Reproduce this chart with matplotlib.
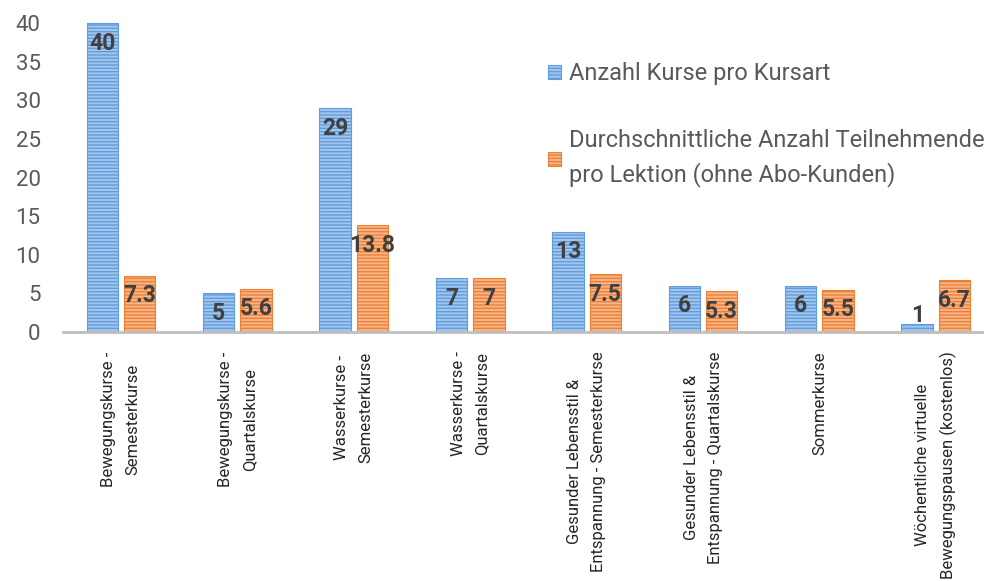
import matplotlib
matplotlib.use("Agg")
import matplotlib.pyplot as plt
import numpy as np
from matplotlib.patches import Patch

categories = [
    "Bewegungskurse -\nSemesterkurse",
    "Bewegungskurse -\nQuartalskurse",
    "Wasserkurse -\nSemesterkurse",
    "Wasserkurse -\nQuartalskurse",
    "Gesunder Lebensstil &\nEntspannung - Semesterkurse",
    "Gesunder Lebensstil &\nEntspannung - Quartalskurse",
    "Sommerkurse",
    "Wöchentliche virtuelle\nBewegungspausen (kostenlos)",
]
anzahl_kurse = [40, 5, 29, 7, 13, 6, 6, 1]
teilnehmende = [7.3, 5.6, 13.8, 7, 7.5, 5.3, 5.5, 6.7]
series_names = ["Anzahl Kurse pro Kursart",
                "Durchschnittliche Anzahl Teilnehmende\npro Lektion (ohne Abo-Kunden)"]
yticks = [0, 5, 10, 15, 20, 25, 30, 35, 40]

plt.rcParams['font.family'] = ['Roboto', 'DejaVu Sans']
plt.rcParams['hatch.linewidth'] = 1.0

W, H = 984, 581
fig = plt.figure(figsize=(W/100, H/100), dpi=100)
ax_h = 309 * 41 / 40
ax = fig.add_axes([62.8/W, 249/H, 931.2/W, ax_h/H])

x = np.arange(len(categories))
bw = 0.27
off = 0.16
blue_face, blue_line = "#a3c6ee", "#5f9ddb"
orange_face, orange_line = "#f7b58a", "#ee8035"

for vals, pos, face, line in [(anzahl_kurse, x - off, blue_face, blue_line),
                              (teilnehmende, x + off, orange_face, orange_line)]:
    ax.bar(pos, vals, bw, color=face, edgecolor='none', zorder=2)
    ax.bar(pos, vals, bw, facecolor='none', edgecolor=line, hatch='-----', linewidth=0.8, zorder=3)
    for p, v in zip(pos, vals):
        label = f"{v:g}"
        ax.text(p, max(v - 2.6, 2.2), label, ha='center', va='center',
                fontsize=16.5, fontweight='bold', color='#404040', zorder=4)

ax.set_xlim(-0.5, 7.5)
ax.set_ylim(0, 41)
ax.set_yticks(yticks)
ax.set_xticks(x)
ax.set_xticklabels(categories, rotation=90, ha='center', va='top',
                   multialignment='center', fontsize=12, color='#262626')
for lbl in ax.get_xticklabels():
    lbl.set_linespacing(1.75)
ax.tick_params(axis='x', length=0, pad=14)
ax.tick_params(axis='y', length=0, pad=16, labelsize=16, labelcolor='#595959')
for s in ['top', 'right', 'left']:
    ax.spines[s].set_visible(False)
ax.spines['bottom'].set_color('#bfbfbf')
ax.spines['bottom'].set_linewidth(2)
ax.spines['bottom'].set_zorder(5)

handles = [Patch(facecolor=blue_face, edgecolor=blue_line, hatch='-----', linewidth=0.8),
           Patch(facecolor=orange_face, edgecolor=orange_line, hatch='-----', linewidth=0.8)]
leg = fig.legend(handles, series_names, loc='upper left',
                 bbox_to_anchor=(548/W, 1 - 62/H), frameon=False,
                 fontsize=17, labelcolor='#595959', handlelength=0.55, handleheight=0.55,
                 handletextpad=0.35, labelspacing=1.85, borderaxespad=0, borderpad=0)
for t in leg.get_texts():
    t.set_linespacing(1.55)

fig.savefig("out.png", dpi=100)
